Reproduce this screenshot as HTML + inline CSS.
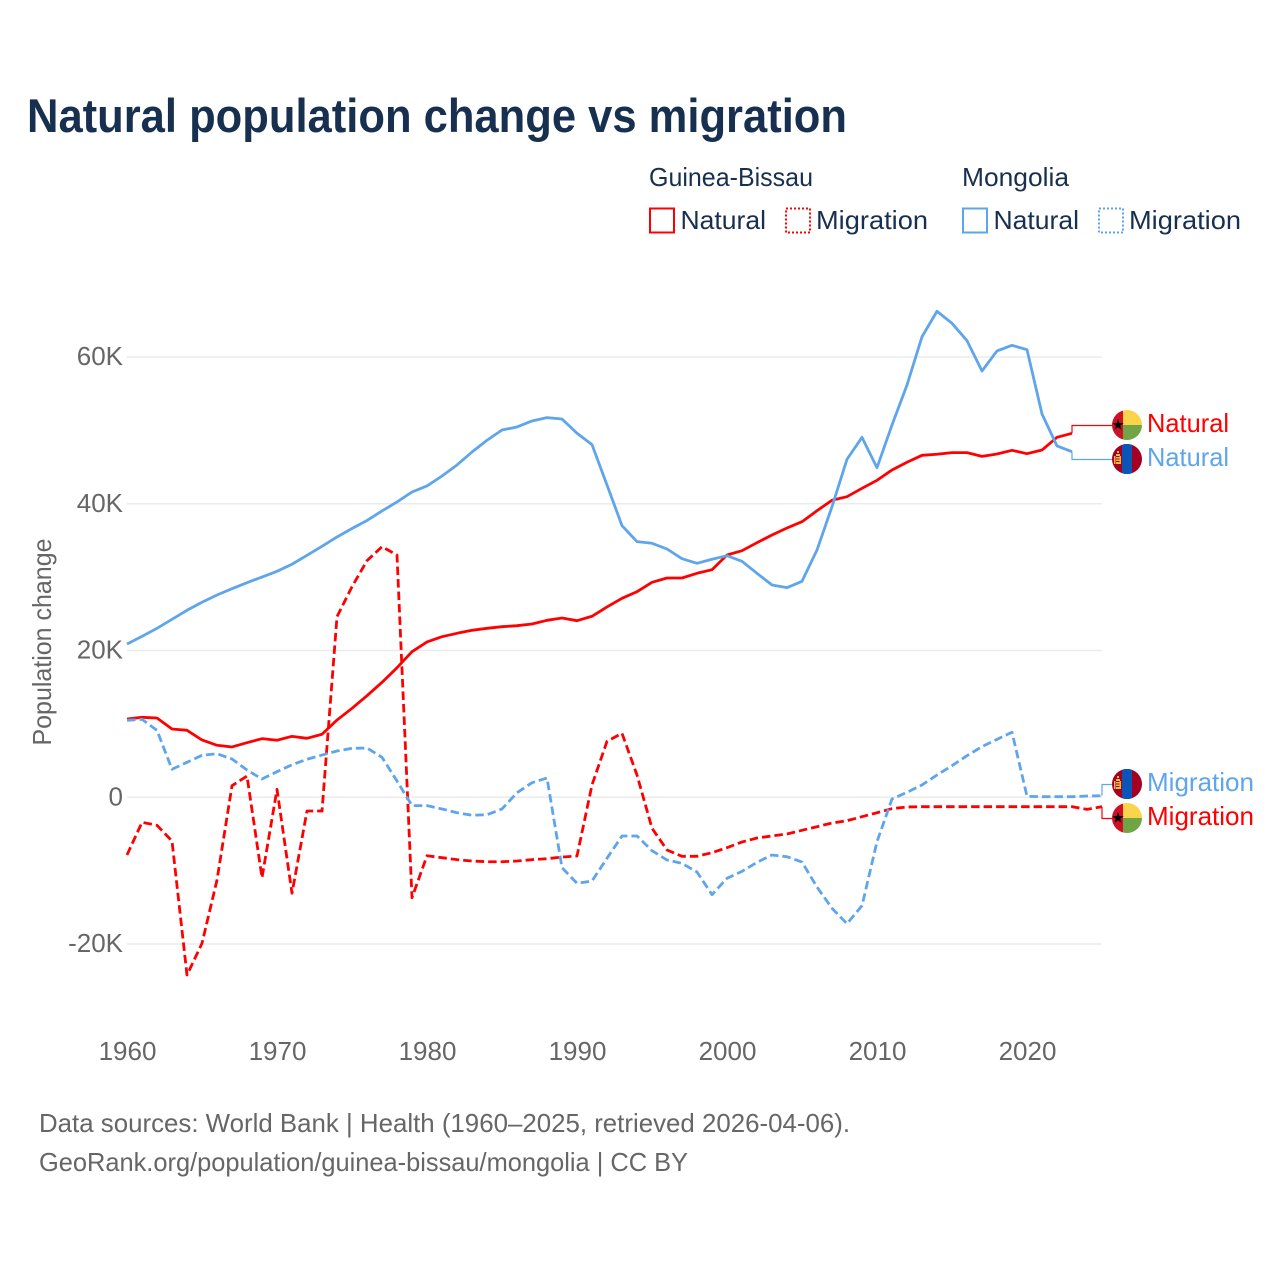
<!DOCTYPE html>
<html lang="en">
<head>
<meta charset="utf-8">
<title>Natural population change vs migration</title>
<style>
  html, body { margin: 0; padding: 0; background: #fff; }
  svg { display: block; font-family: "Liberation Sans", sans-serif; }
</style>
</head>
<body>
<svg id="chart" xmlns="http://www.w3.org/2000/svg" width="1280" height="1280" viewBox="0 0 1280 1280">
  <defs>
    <clipPath id="flag-clip"><circle cx="0" cy="0" r="15"/></clipPath>
    <g id="flag-gw" clip-path="url(#flag-clip)">
      <rect x="-15" y="-15" width="11" height="30" fill="#ce1126"/>
      <rect x="-4" y="-15" width="19" height="15" fill="#fcd44c"/>
      <rect x="-4" y="0" width="19" height="15" fill="#6fa544"/>
      <polygon points="-9,-6 -7.6,-1.9 -3.3,-1.9 -6.8,0.7 -5.5,4.8 -9,2.3 -12.5,4.8 -11.2,0.7 -14.7,-1.9 -10.4,-1.9" fill="#000"/>
    </g>
    <g id="flag-mn" clip-path="url(#flag-clip)">
      <rect x="-15" y="-15" width="30" height="30" fill="#a50021"/>
      <rect x="-5" y="-15" width="10" height="30" fill="#0a55b5"/>
      <rect x="-10" y="-8" width="2" height="2" fill="#eebb44"/>
      <rect x="-11" y="-5" width="4" height="2" fill="#eebb44"/>
      <rect x="-13" y="-3" width="1.5" height="8" fill="#eebb44"/>
      <rect x="-7.5" y="-3" width="1.5" height="8" fill="#eebb44"/>
      <rect x="-11" y="-2" width="4" height="1.5" fill="#eebb44"/>
      <rect x="-11" y="0.5" width="4" height="1.5" fill="#eebb44"/>
      <rect x="-11" y="3" width="4" height="2" fill="#eebb44"/>
    </g>
  </defs>

  <rect x="0" y="0" width="1280" height="1280" fill="#fff"/>

  <text x="27" y="132" font-size="47" font-weight="700" fill="#18304f" textLength="820" lengthAdjust="spacingAndGlyphs">Natural population change vs migration</text>

  <g font-size="26" fill="#18304f">
    <text x="649" y="186" textLength="164" lengthAdjust="spacingAndGlyphs">Guinea-Bissau</text>
    <text x="962" y="186" textLength="107" lengthAdjust="spacingAndGlyphs">Mongolia</text>

    <rect x="650" y="208.5" width="24" height="24" fill="none" stroke="#ff0000" stroke-width="2"/>
    <text x="680.5" y="229" textLength="85.5" lengthAdjust="spacingAndGlyphs">Natural</text>
    <rect x="786" y="208.5" width="24" height="24" fill="none" stroke="#ff0000" stroke-width="2" stroke-dasharray="2 2"/>
    <text x="816" y="229" textLength="112" lengthAdjust="spacingAndGlyphs">Migration</text>

    <rect x="963" y="208.5" width="24" height="24" fill="none" stroke="#5ea5ec" stroke-width="2"/>
    <text x="993.5" y="229" textLength="85.5" lengthAdjust="spacingAndGlyphs">Natural</text>
    <rect x="1099" y="208.5" width="24" height="24" fill="none" stroke="#5ea5ec" stroke-width="2" stroke-dasharray="2 2"/>
    <text x="1129" y="229" textLength="112" lengthAdjust="spacingAndGlyphs">Migration</text>
  </g>

  <text transform="translate(51 642) rotate(-90)" text-anchor="middle" font-size="26" fill="#666" textLength="207" lengthAdjust="spacingAndGlyphs">Population change</text>

  <g id="grid"></g>
  <g id="y-ticks"></g>
  <g id="x-ticks"></g>
  <g id="connectors"></g>
  <g id="series"></g>

  <g>
    <use href="#flag-gw" x="1127" y="425"/>
    <text x="1147" y="432" font-size="26" fill="#ff0000" textLength="82" lengthAdjust="spacingAndGlyphs">Natural</text>
  </g>
  <g>
    <use href="#flag-mn" x="1127" y="459"/>
    <text x="1147" y="466" font-size="26" fill="#5ea5ec" textLength="82" lengthAdjust="spacingAndGlyphs">Natural</text>
  </g>
  <g>
    <use href="#flag-mn" x="1127" y="784"/>
    <text x="1147" y="791" font-size="26" fill="#5ea5ec" textLength="107" lengthAdjust="spacingAndGlyphs">Migration</text>
  </g>
  <g>
    <use href="#flag-gw" x="1127" y="818"/>
    <text x="1147" y="825" font-size="26" fill="#ff0000" textLength="107" lengthAdjust="spacingAndGlyphs">Migration</text>
  </g>

  <g font-size="26" fill="#666">
    <text x="39" y="1132" textLength="811" lengthAdjust="spacingAndGlyphs">Data sources: World Bank | Health (1960–2025, retrieved 2026-04-06).</text>
    <text x="39" y="1171" textLength="649" lengthAdjust="spacingAndGlyphs">GeoRank.org/population/guinea-bissau/mongolia | CC BY</text>
  </g>

<script>
const firstYear = 1960;
const xTickYears = [1960, 1970, 1980, 1990, 2000, 2010, 2020];
const yTickValues = [-20, 0, 20, 40, 60];
const yTickLabels = ['-20K', '0', '20K', '40K', '60K'];

// Values in thousands of people, one per year starting at 1960.
const gbNatural = [10.67,10.90,10.81,9.31,9.13,7.81,7.09,6.86,7.44,7.99,7.77,8.31,8.04,8.59,10.53,12.13,13.85,15.67,17.66,19.84,21.17,21.89,22.35,22.76,23.03,23.25,23.39,23.62,24.12,24.44,24.07,24.67,25.94,27.12,28.02,29.30,29.89,29.89,30.53,31.02,33.02,33.61,34.70,35.75,36.70,37.56,39.06,40.48,40.97,42.11,43.20,44.61,45.66,46.61,46.75,46.97,46.97,46.47,46.79,47.29,46.83,47.33,49.06,49.61];
const gbMigration = [-7.86,-3.41,-3.82,-5.96,-24.22,-19.90,-11.27,1.58,2.90,-10.96,1.09,-13.08,-1.87,-1.87,24.61,28.70,32.25,34.15,33.02,-13.68,-7.96,-8.23,-8.50,-8.68,-8.78,-8.78,-8.68,-8.50,-8.37,-8.14,-8.00,1.68,7.63,8.72,3.04,-4.22,-7.18,-8.04,-8.04,-7.55,-6.87,-6.09,-5.55,-5.27,-5.00,-4.50,-4.01,-3.50,-3.19,-2.64,-2.10,-1.55,-1.32,-1.28,-1.28,-1.28,-1.28,-1.28,-1.28,-1.28,-1.28,-1.28,-1.28,-1.28,-1.64,-1.28];
const mnNatural = [20.89,21.94,23.03,24.26,25.49,26.58,27.57,28.43,29.25,30.02,30.80,31.76,32.98,34.21,35.48,36.63,37.73,39.02,40.25,41.61,42.43,43.79,45.29,47.06,48.66,50.06,50.47,51.29,51.74,51.56,49.61,48.06,42.56,37.02,34.84,34.62,33.84,32.52,31.89,32.44,32.93,32.16,30.53,28.93,28.57,29.44,33.70,39.61,46.07,49.06,44.92,50.74,56.19,62.77,66.24,64.60,62.23,58.10,60.83,61.60,61.00,52.24,47.88,47.10];
const mnMigration = [10.49,10.63,9.13,3.82,4.77,5.72,5.94,5.22,3.72,2.49,3.49,4.44,5.18,5.76,6.31,6.68,6.72,5.45,2.22,-1.14,-1.14,-1.59,-2.10,-2.45,-2.37,-1.59,0.63,1.99,2.63,-9.59,-11.72,-11.41,-8.31,-5.27,-5.27,-7.28,-8.55,-9.00,-10.18,-13.27,-11.04,-10.09,-8.86,-7.86,-8.10,-8.82,-12.23,-15.13,-17.23,-14.77,-6.05,-0.23,0.68,1.68,3.04,4.31,5.67,6.90,7.90,8.86,0.14,0.08,0.08,0.08,0.18,0.22];

const NS = 'http://www.w3.org/2000/svg';
function xScale(year) { return 127 + (year - 1960) * 15; }
function yScale(value) { return 797.3 - value * 7.3375; }

function make(tag, attrs, parent) {
  const el = document.createElementNS(NS, tag);
  for (const k in attrs) el.setAttribute(k, attrs[k]);
  parent.appendChild(el);
  return el;
}
function linePath(values) {
  return values.map(function (v, i) {
    return (i ? 'L' : 'M') + xScale(firstYear + i).toFixed(2) + ' ' + yScale(v).toFixed(2);
  }).join(' ');
}

const gridG = document.getElementById('grid');
const yTickG = document.getElementById('y-ticks');
yTickValues.forEach(function (v, i) {
  const line = make('line', { x1: 127, x2: 1102, y1: yScale(v), y2: yScale(v), stroke: '#ebebeb', 'stroke-width': 1.5 }, gridG);
  
  
  const t = make('text', { x: 123, y: yScale(v) + 8, 'text-anchor': 'end', 'font-size': 26, fill: '#666' }, yTickG);
  
  
  t.textContent = yTickLabels[i];
});

const xTickG = document.getElementById('x-ticks');
xTickYears.forEach(function (year) {
  const t = make('text', { x: xScale(year) + 0.5, y: 1060, 'text-anchor': 'middle', 'font-size': 26, fill: '#666' }, xTickG);
  
  
  t.textContent = String(year);
});

const connG = document.getElementById('connectors');
function connector(values, labelY, color, name) {
  const ex = xScale(firstYear + values.length - 1);
  const ey = yScale(values[values.length - 1]);
  const p = make('path', { d: 'M' + ex + ' ' + ey + ' L' + ex + ' ' + labelY + ' L1113 ' + labelY, fill: 'none', stroke: color, 'stroke-width': 1.2 }, connG);
  
  
}
connector(gbNatural, 425.5, '#ff0000', 'connector-gb-natural');
connector(mnNatural, 459.5, '#5ea5ec', 'connector-mn-natural');
connector(mnMigration, 784.5, '#5ea5ec', 'connector-mn-migration');
connector(gbMigration, 818.5, '#ff0000', 'connector-gb-migration');

const seriesG = document.getElementById('series');
function drawSeries(values, color, dashed, name) {
  const d = linePath(values);
  const attrs = { d: d, fill: 'none', stroke: color, 'stroke-width': 2.8, 'stroke-linejoin': 'round' };
  if (dashed) attrs['stroke-dasharray'] = '8.5 4';
  const p = make('path', attrs, seriesG);
  
  
}
drawSeries(gbNatural, '#ff0000', false, 'line-gb-natural');
drawSeries(gbMigration, '#ff0000', true, 'line-gb-migration');
drawSeries(mnNatural, '#5ea5ec', false, 'line-mn-natural');
drawSeries(mnMigration, '#5ea5ec', true, 'line-mn-migration');
</script>
</svg>
</body>
</html>
